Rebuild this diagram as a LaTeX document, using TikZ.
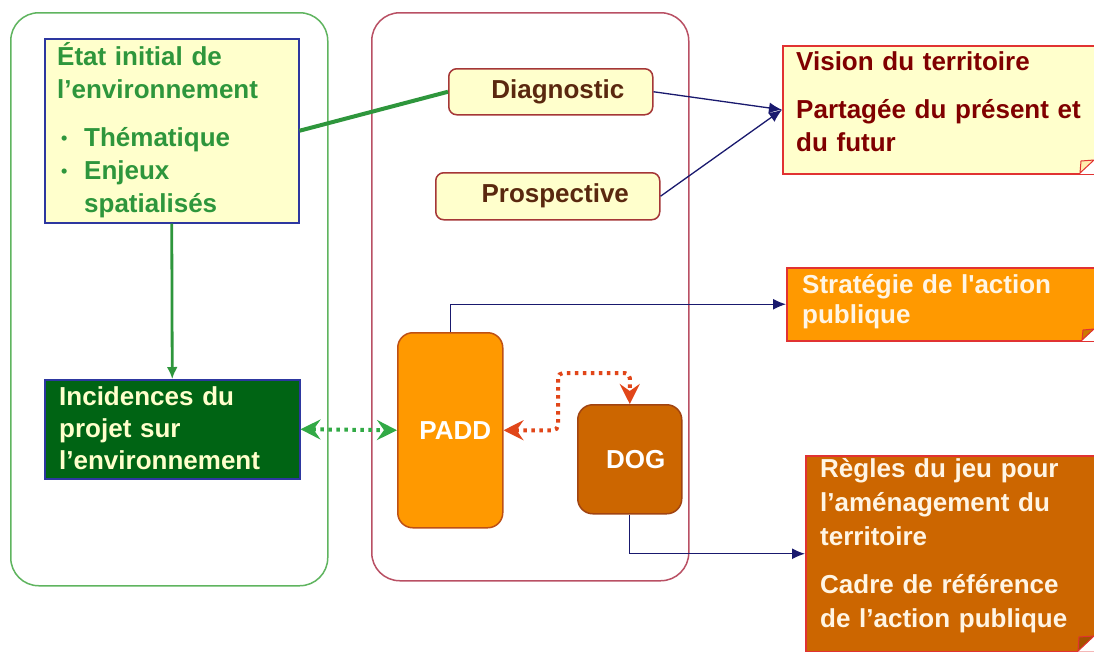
\documentclass[tikz,border=0pt]{standalone}
\usepackage{fontspec}
\setmainfont{Liberation Sans}
\usetikzlibrary{arrows.meta,calc}
\definecolor{grn}{RGB}{46,150,60}
\definecolor{grnbox}{RGB}{95,180,95}
\definecolor{yel}{RGB}{255,255,204}
\definecolor{navy}{RGB}{45,55,160}
\definecolor{dkgrn}{RGB}{0,100,20}
\definecolor{midbd}{RGB}{185,80,100}
\definecolor{brn}{RGB}{90,40,15}
\definecolor{diagbd}{RGB}{165,55,55}
\definecolor{visbd}{RGB}{225,50,50}
\definecolor{vistx}{RGB}{128,0,0}
\definecolor{org}{RGB}{255,153,0}
\definecolor{dorg}{RGB}{204,102,0}
\definecolor{orgbd}{RGB}{190,80,20}
\definecolor{ltx}{RGB}{255,245,228}
\definecolor{linkblue}{RGB}{25,25,110}
\definecolor{reddot}{RGB}{225,70,25}
\definecolor{grndot}{RGB}{50,170,70}
\newcommand{\smallbul}{\raisebox{2pt}{\fontsize{18}{18}\selectfont•}}
\begin{document}
\begin{tikzpicture}[x=1pt,y=-1pt,
  every node/.style={font=\fontsize{26}{33}\selectfont\bfseries},
  box/.style={rectangle, anchor=north west, inner sep=0pt, line width=1.5pt},
  frame/.style={box, rounded corners=28pt, line width=1.5pt},
  txt/.style={anchor=north west, inner sep=0pt, align=left, text width=300pt},
  link/.style={draw=linkblue, line width=1.3pt, -{Latex[length=13pt,width=11pt]}},
  dotline/.style={line width=4pt, dash pattern=on 3.5pt off 4.5pt},
  stl/.tip={Stealth[length=20pt,width=20pt,inset=7pt]},
  fold/.style={line width=1pt}
]
\useasboundingbox (0,0) rectangle (1094,651);
\fill[white] (0,0) rectangle (1094,651);

% containers
\node[frame, draw=grnbox, minimum width=317pt, minimum height=573pt] (envframe) at (10,12) {};
\node[frame, draw=midbd, minimum width=317pt, minimum height=568pt] (scotframe) at (371,12) {};

% left column
\node[box, draw=navy, fill=yel, minimum width=254pt, minimum height=184pt] (etat) at (44,38) {};
\node[txt, text=grn] (etatT) at (57,40) {\rule{0pt}{25pt}État initial de\\l’environnement\\[15pt]\hspace*{4pt}\makebox[23pt][l]{\smallbul}Thématique\\\hspace*{4pt}\makebox[23pt][l]{\smallbul}Enjeux\\\hspace*{27pt}spatialisés};

\node[box, draw=navy, fill=dkgrn, minimum width=255pt, minimum height=99pt] (inc) at (44,379) {};
\node[txt, text=yel, font=\fontsize{26}{32}\selectfont\bfseries] (incT) at (59,380) {\rule{0pt}{25pt}Incidences du\\projet sur\\l’environnement};

% middle column
\node[box, rounded corners=8pt, draw=diagbd, fill=yel, text=brn, minimum width=204pt, minimum height=46pt] (diag) at (448,68) {\hspace*{14pt}Diagnostic};
\node[box, rounded corners=8pt, draw=diagbd, fill=yel, text=brn, minimum width=224pt, minimum height=47pt] (pros) at (435,172) {\hspace*{15pt}Prospective};
\node[box, rounded corners=15pt, draw=orgbd, fill=org, text=white, minimum width=105pt, minimum height=195pt] (padd) at (397,332) {\hspace*{10pt}PADD};
\node[box, rounded corners=15pt, draw=orgbd!85!black, fill=dorg, text=white, minimum width=104pt, minimum height=109pt] (dog) at (577,404) {\hspace*{12pt}DOG};

% right column
\node[box, draw=visbd, fill=yel, minimum width=312pt, minimum height=128pt] (vision) at (782,45) {};
\node[txt, text=vistx] (visionT) at (796,45) {\rule{0pt}{25pt}Vision du territoire\\[15pt]Partagée du présent et\\du futur};
\fill[white] (1080,173.8) -- (1094,159) -- (1094,173.8) -- cycle;
\draw[fold, draw=visbd, fill=yel!85!orange] (1080,173) -- (1094,160) -- (1081,161) -- cycle;

\node[box, draw=visbd, fill=org, minimum width=308pt, minimum height=73pt] (strat) at (786,267) {};
\node[txt, text=ltx, font=\fontsize{26}{30}\selectfont\bfseries] (stratT) at (802,268) {\rule{0pt}{25pt}Stratégie de l\textquotesingle action\\publique};
\fill[white] (1082,340.8) -- (1094,329) -- (1094,340.8) -- cycle;
\draw[fold, draw=visbd, fill=org!80!black] (1082,340) -- (1094,329) -- (1083,330) -- cycle;

\node[box, draw=visbd, fill=dorg, minimum width=289pt, minimum height=196pt] (regles) at (805,455) {};
\node[txt, text=ltx, font=\fontsize{26}{34}\selectfont\bfseries] (reglesT) at (820,452) {\rule{0pt}{25pt}Règles du jeu pour\\l’aménagement du\\territoire\\[14pt]Cadre de référence\\de l’action publique};
\fill[white] (1078,651.5) -- (1094,636) -- (1094,651.5) -- cycle;
\draw[fold, draw=visbd, fill=dorg!80!black] (1078,651) -- (1094,636) -- (1079,637) -- cycle;

% connectors
\draw[grn, line width=4pt] (etat.east) -- (diag.west);
\draw[grn, line width=2.8pt, -{Latex[length=12pt,width=11pt]}] (etat.south) -- (inc.north);
\draw[link] (diag.east) -- (vision.west);
\draw[link] (pros.east) -- (vision.west);
\draw[link] (padd.north) |- (strat.west);
\draw[link] (dog.south) |- (regles.west);

\coordinate (rc) at (558,373);
\draw[dotline, draw=grndot, {stl}-{stl}] (inc.east) -- (padd.west);
\draw[dotline, draw=reddot, rounded corners=5pt, {stl}-{stl}] (padd.east) -| (rc) -| (dog.north);
\end{tikzpicture}
\end{document}
